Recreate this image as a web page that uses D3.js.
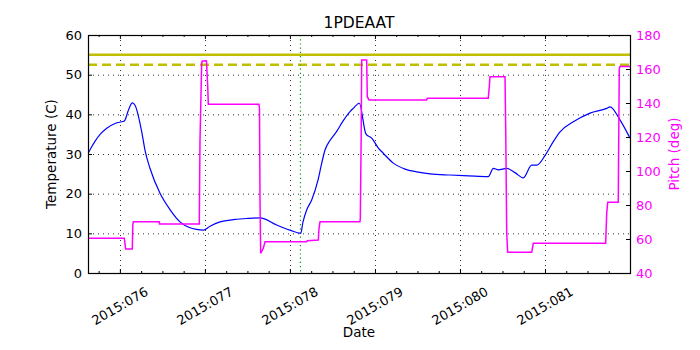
<!DOCTYPE html>
<html><head><meta charset="utf-8">
<script src="https://cdn.jsdelivr.net/npm/d3@7"></script>
<style>
body{margin:0;background:#fff;}
svg{display:block;font-family:"DejaVu Sans",sans-serif;}
</style></head>
<body><svg id="c" width="700" height="350"></svg>
<script>
// Day-of-year 2015 (fractional) and temperature (C)
const tempDays = [75.63,75.66,75.707,75.77,75.845,75.943,76.037,76.052,76.10,76.146,76.178,76.257,76.295,76.354,76.472,76.589,76.707,76.825,76.90,76.981,77.060,77.178,77.354,77.50,77.648,77.844,78.001,78.127,78.154,78.197,78.256,78.330,78.374,78.413,78.471,78.550,78.624,78.707,78.745,78.816,78.895,78.962,79.040,79.098,79.216,79.354,79.491,79.648,79.883,80.10,80.333,80.392,80.451,80.550,80.647,80.745,80.844,80.903,81.003,81.094,81.177,81.333,81.530,81.726,81.765,81.882,82.0];
const tempVals = [30.3,31.5,33.2,35.0,36.5,37.7,38.2,38.3,41.0,42.9,42.3,35.6,31.0,26.4,20.1,16.0,12.9,11.4,11.0,10.8,11.8,12.9,13.5,13.75,13.9,12.1,10.8,10.0,12.9,15.9,18.4,23.4,27.7,31.0,33.4,35.7,38.3,40.7,41.5,42.8,35.0,34.0,31.5,30.2,27.7,26.2,25.5,25.0,24.7,24.5,24.3,26.4,26.0,26.4,25.3,24.0,27.2,27.2,29.7,33.0,35.6,38.1,40.3,41.5,41.9,38.6,34.0];
// Pitch (deg)
const pitchDays = [75.63,76.052,76.068,76.146,76.152,76.158,76.464,76.465,76.934,76.942,76.962,76.969,77.019,77.025,77.033,77.040,77.636,77.642,77.648,77.656,77.687,77.707,78.197,78.204,78.334,78.342,78.354,78.824,78.828,78.838,78.844,78.903,78.910,78.930,79.609,79.616,80.333,80.345,80.353,80.530,80.538,80.550,80.561,80.844,80.863,81.714,81.726,81.738,81.862,81.866,81.874,81.882,82.0];
const pitchVals = [60.4,60.4,54.1,54.1,68.2,70.2,70.2,68.8,68.8,117,163.4,164.7,164.7,158,150,139.2,139.2,136.9,84,51.6,54.5,58.4,58.4,59.0,59.4,66.3,70.2,70.2,72.2,120,165.3,165.3,143.7,141.8,141.8,142.8,142.8,149.6,155.5,155.5,125.1,63.7,52.2,52.2,57.5,57.5,75.1,81.6,81.6,110,160.4,161.4,161.4];
const limitSolid = 55.0;
const limitDashed = 52.5;
const markerDay = 78.124;
const xTickDays = [76,77,78,79,80,81];
const leftTicks = [0,10,20,30,40,50,60];
const rightTicks = [40,60,80,100,120,140,160,180];
const titleText = "1PDEAAT";

const svg = d3.select("#c");
const L=88,R=630,T=35,B=273;
const x = d3.scaleLinear().domain([75.625,82.0]).range([L,R]);
const yL = d3.scaleLinear().domain([0,60]).range([B,T]);
const yR = d3.scaleLinear().domain([40,180]).range([B,T]);

svg.append("defs").append("clipPath").attr("id","clip")
  .append("rect").attr("x",L).attr("y",T).attr("width",R-L).attr("height",B-T);

// grid
const g = svg.append("g");
g.selectAll(".gy").data(leftTicks.slice(1,-1)).enter().append("line")
  .attr("x1",L).attr("x2",R).attr("y1",d=>yL(d)+0.5).attr("y2",d=>yL(d)+0.5)
  .attr("stroke","#000").attr("stroke-width",0.8).attr("stroke-dasharray","1,4");
g.selectAll(".gx").data(xTickDays).enter().append("line")
  .attr("y1",T).attr("y2",B).attr("x1",d=>Math.round(x(d))+0.5).attr("x2",d=>Math.round(x(d))+0.5)
  .attr("stroke","#000").attr("stroke-width",0.8).attr("stroke-dasharray","1,4");

const plot = svg.append("g").attr("clip-path","url(#clip)");
plot.append("line").attr("x1",L).attr("x2",R).attr("y1",yL(limitSolid)).attr("y2",yL(limitSolid))
  .attr("stroke","#bfbf00").attr("stroke-width",2.5);
plot.append("line").attr("x1",L).attr("x2",R).attr("y1",yL(limitDashed)).attr("y2",yL(limitDashed))
  .attr("stroke","#bfbf00").attr("stroke-width",2.5).attr("stroke-dasharray","9,5");
plot.append("line").attr("x1",x(markerDay)).attr("x2",x(markerDay)).attr("y1",T).attr("y2",B)
  .attr("stroke","#00a000").attr("stroke-width",1.2).attr("stroke-dasharray","1.2,3");

const tline = d3.line().curve(d3.curveMonotoneX).x((d,i)=>x(tempDays[i])).y(d=>yL(d));
plot.append("path").attr("d",tline(tempVals)).attr("fill","none").attr("stroke","#0000ff").attr("stroke-width",1.2);
const pline = d3.line().x((d,i)=>x(pitchDays[i])).y(d=>yR(d));
plot.append("path").attr("d",pline(pitchVals)).attr("fill","none").attr("stroke","#ff00ff").attr("stroke-width",1.5);

// axes with inward ticks
const fmt = d=>"2015:0"+d3.format("02d")(d);
const minor = d3.range(75.75,82.0001,0.25).filter(d=>Math.abs(d-Math.round(d))>1e-6);
const axB = d3.axisBottom(x).tickValues(xTickDays).tickSize(-4).tickFormat("");
const axBm = d3.axisBottom(x).tickValues(minor).tickSize(-2).tickFormat("");
const axT = d3.axisTop(x).tickValues(xTickDays).tickSize(-4).tickFormat("");
const axTm = d3.axisTop(x).tickValues(minor).tickSize(-2).tickFormat("");
[[axB,B],[axBm,B],[axT,T],[axTm,T]].forEach(([a,yy])=>{
  const gg=svg.append("g").attr("transform",`translate(0,${yy})`).call(a);
  gg.select(".domain").remove();
  gg.selectAll("line").attr("stroke","#000");
});
const xl = svg.append("g");
xl.selectAll("text").data(xTickDays).enter().append("text")
  .attr("transform",d=>`translate(${x(d)},306) rotate(-30)`)
  .attr("text-anchor","middle").attr("dominant-baseline","central")
  .attr("font-size",13).attr("fill","#000").text(fmt);

const axL = d3.axisLeft(yL).tickValues(leftTicks).tickSize(-4).tickPadding(6);
const gL = svg.append("g").attr("transform",`translate(${L},0)`).call(axL);
gL.select(".domain").remove();
gL.selectAll("text").attr("font-size",13).attr("font-family","DejaVu Sans").attr("fill","#000");
gL.selectAll("line").attr("stroke","#000");

const axR = d3.axisRight(yR).tickValues(rightTicks).tickSize(-4).tickPadding(6);
const gR = svg.append("g").attr("transform",`translate(${R},0)`).call(axR);
gR.select(".domain").remove();
gR.selectAll("text").attr("font-size",13).attr("font-family","DejaVu Sans").attr("fill","#ff00ff");
gR.selectAll("line").attr("stroke","#000");

svg.append("rect").attr("x",L+0.5).attr("y",T+0.5).attr("width",R-L).attr("height",B-T)
  .attr("fill","none").attr("stroke","#000").attr("stroke-width",1.2);

svg.append("text").attr("x",(L+R)/2).attr("y",28).attr("text-anchor","middle")
  .attr("font-size",15.5).attr("fill","#000").text(titleText);
svg.append("text").attr("x",(L+R)/2).attr("y",337).attr("text-anchor","middle")
  .attr("font-size",13.5).attr("fill","#000").text("Date");
svg.append("text").attr("transform",`translate(56,${(T+B)/2}) rotate(-90)`).attr("text-anchor","middle")
  .attr("font-size",13.5).attr("fill","#000").text("Temperature (C)");
svg.append("text").attr("transform",`translate(679,${(T+B)/2}) rotate(-90)`).attr("text-anchor","middle")
  .attr("font-size",13.5).attr("fill","#ff00ff").text("Pitch (deg)");
</script></body></html>
